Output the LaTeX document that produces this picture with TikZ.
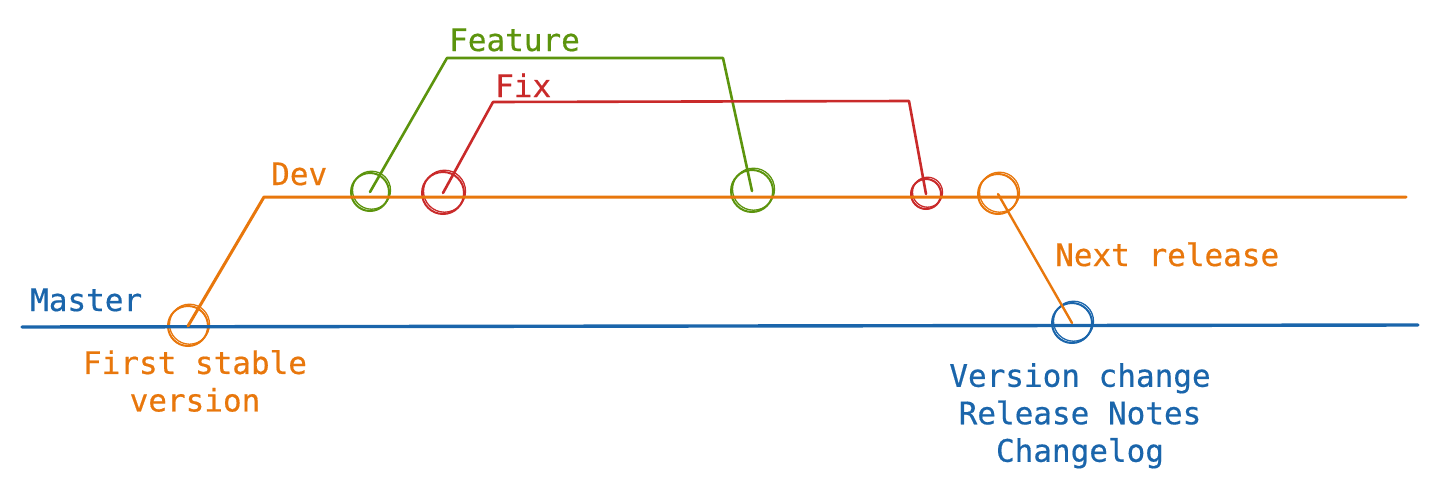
\documentclass[tikz,border=0pt]{standalone}
\usepackage{fontspec}
\newfontfamily\monofont[FakeBold=0.5]{DejaVu Sans Mono}
\newcommand\lblfont{\monofont\fontsize{31}{37.5}\selectfont}
\definecolor{mastercol}{HTML}{1A65AB}
\definecolor{devcol}{HTML}{E8770C}
\definecolor{featcol}{HTML}{5C940D}
\definecolor{fixcol}{HTML}{C92A2A}
\tikzset{
  commit/.style={circle, draw, line width=2pt, minimum size=40pt, inner sep=0pt,
    preaction={draw, line width=1.3pt, transform canvas={shift={(1.5pt,1.8pt)}}}},
  branch/.style={line width=3pt, line cap=round, line join=round},
  lbl/.style={font=\lblfont, inner sep=0pt},
}

\begin{document}
\begin{tikzpicture}[x=1pt, y=-1pt]
  \useasboundingbox (0,0) rectangle (1438,490);
  % commits
  \node[commit, devcol] (s) at (188,326) {};
  \node[commit, featcol, minimum size=38pt] (f1) at (370,192) {};
  \node[commit, fixcol, minimum size=42pt] (x1) at (443,193) {};
  \node[commit, featcol, minimum size=42pt] (f2) at (752,191) {};
  \node[commit, fixcol, minimum size=30pt] (x2) at (926,194) {};
  \node[commit, devcol] (r) at (998,194) {};
  \node[commit, mastercol] (v) at (1072,323) {};
  % branch corners
  \coordinate (m0) at (22,327);
  \coordinate (m1) at (1418,325);
  \coordinate (d0) at (264,197);
  \coordinate (d1) at (1406,197);
  \coordinate (fa) at (447,58);
  \coordinate (fb) at (723,58);
  \coordinate (xa) at (493,102);
  \coordinate (xb) at (909,101);
  % branches
  \draw[branch, mastercol, line width=3.4pt] (m0) -- (m1);
  \draw[branch, devcol] (s.center) -- (d0) -- (d1);
  \draw[branch, featcol, line width=2.6pt] (f1.center) -- (fa) -- (fb) -- (f2.center);
  \draw[branch, fixcol, line width=2.6pt] (x1.center) -- (xa) -- (xb) -- (x2.center);
  \draw[branch, devcol, line width=2.4pt] (r.center) -- (v.center);
  % labels
  \node[lbl, mastercol, anchor=base west] (masterl) at (30,311) {Master};
  \node[lbl, devcol, anchor=base west] (devl) at (271,185) {Dev};
  \node[lbl, featcol, anchor=base west] (featl) at (449,51) {Feature};
  \node[lbl, fixcol, anchor=base west] (fixl) at (495,97) {Fix};
  \node[lbl, devcol, anchor=base west] (nextl) at (1055,266) {Next release};
  \node[lbl, devcol, align=center, anchor=north] (firstl) at (195,350) {First stable\\version};
  \node[lbl, mastercol, align=center, anchor=north] (notesl) at (1080,363) {Version change\\Release Notes\\Changelog};
\end{tikzpicture}
\end{document}
